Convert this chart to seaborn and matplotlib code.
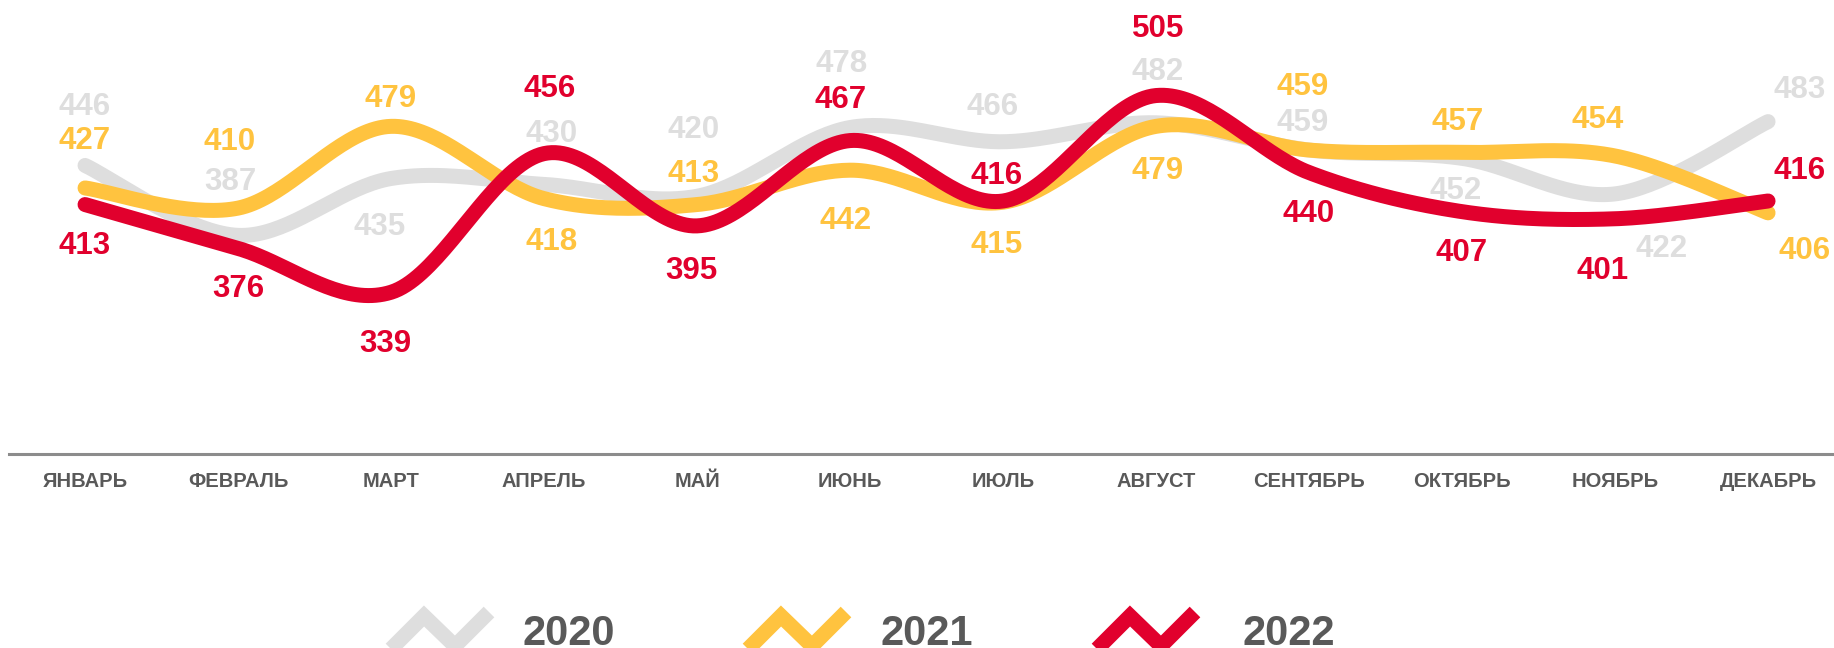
import numpy as np
import pandas as pd
import matplotlib
matplotlib.use("Agg")
import matplotlib.pyplot as plt
import seaborn as sns

# datos
meses = ["ЯНВАРЬ", "ФЕВРАЛЬ", "МАРТ", "АПРЕЛЬ", "МАЙ", "ИЮНЬ",
         "ИЮЛЬ", "АВГУСТ", "СЕНТЯБРЬ", "ОКТЯБРЬ", "НОЯБРЬ", "ДЕКАБРЬ"]
anios = ["2020", "2021", "2022"]
v2020 = [446, 387, 435, 430, 420, 478, 466, 482, 459, 452, 422, 483]
v2021 = [427, 410, 479, 418, 413, 442, 415, 479, 459, 457, 454, 406]
v2022 = [413, 376, 339, 456, 395, 467, 416, 505, 440, 407, 401, 416]
valores = {"2020": v2020, "2021": v2021, "2022": v2022}

colores = {"2020": "#DEDEDE", "2021": "#FFC33F", "2022": "#E1002D"}
gris_texto = "#595959"

# desplazamiento de etiquetas (px, y hacia abajo)
off2020 = [(0, -62), (-8, -57), (-11, 45), (8, -54), (-3, -70), (-8, -67),
           (-10, -38), (2, -54), (-6, -31), (-6, 29), (47, 52), (32, -35)]
off2021 = [(0, -50), (-8, -70), (0, -31), (8, 40), (-3, -34), (-4, 47),
           (-6, 39), (2, 41), (-6, -67), (-4, -34), (-17, -39), (37, 35)]
off2022 = [(0, 38), (0, 37), (-6, 48), (6, -68), (-6, 42), (-9, -44),
           (-6, -29), (2, -70), (0, 38), (0, 38), (-12, 49), (32, -34)]
desplaz = {"2020": off2020, "2021": off2021, "2022": off2022}


def suavizar(y, n=40):
    # suavizado tipo Excel (bezier con puntos de control a 1/6)
    y = np.asarray(y, dtype=float)
    x = np.arange(len(y), dtype=float)
    pts = np.column_stack([x, y])
    xs, ys = [], []
    for i in range(len(y) - 1):
        p0 = pts[max(i - 1, 0)]
        p1 = pts[i]
        p2 = pts[i + 1]
        p3 = pts[min(i + 2, len(y) - 1)]
        c1 = p1 + (p2 - p0) / 6
        c2 = p2 - (p3 - p1) / 6
        t = np.linspace(0, 1, n, endpoint=(i == len(y) - 2))[:, None]
        b = ((1 - t) ** 3) * p1 + 3 * ((1 - t) ** 2) * t * c1 + 3 * (1 - t) * t ** 2 * c2 + t ** 3 * p2
        xs.extend(b[:, 0])
        ys.extend(b[:, 1])
    return xs, ys


filas = []
for a in anios:
    xs, ys = suavizar(valores[a])
    filas.append(pd.DataFrame({"x": xs, "y": ys, "anio": a}))
df = pd.concat(filas, ignore_index=True)

sns.set_theme(style="white")
plt.rcParams["font.family"] = ["Liberation Sans", "DejaVu Sans"]

W, H = 1834, 648
fig = plt.figure(figsize=(W / 100, H / 100), dpi=100)
ax = fig.add_axes([9 / W, (H - 454) / H, 1825 / W, 454 / H])

sns.lineplot(data=df, x="x", y="y", hue="anio", hue_order=anios, palette=colores,
             linewidth=10.8, estimator=None, sort=False, legend=False, ax=ax,
             solid_capstyle="round")

ax.set_xlim(-0.497, 11.431)
ax.set_ylim(202.5, 202.5 + 454 / 1.185)

for a in anios:
    for i, v in enumerate(valores[a]):
        dx, dy = desplaz[a][i]
        ax.annotate(str(v), (i, v), xytext=(dx * 0.72, -(dy + 11.5) * 0.72),
                    textcoords="offset points", ha="center", va="baseline",
                    fontsize=22.5, fontweight="bold", color=colores[a],
                    annotation_clip=False)

ax.set_xticks(range(12))
ax.set_xticklabels(meses, fontsize=14.5, fontweight="bold", color=gris_texto)
ax.tick_params(axis="x", length=0, pad=13)
ax.set_yticks([])
ax.set_xlabel("")
ax.set_ylabel("")
for lado in ["top", "left", "right"]:
    ax.spines[lado].set_visible(False)
ax.spines["bottom"].set_color("#8C8C8C")
ax.spines["bottom"].set_linewidth(2.2)

# leyenda
lg = fig.add_axes([0, 0, 1, 1], zorder=-1)
lg.set_xlim(0, W)
lg.set_ylim(H, 0)
lg.axis("off")
zig_x = [382, 424, 455, 489]
zig_y = [658, 616, 646, 612]
inicio_icono = {"2020": 0, "2021": 357, "2022": 706}
inicio_texto = {"2020": 522, "2021": 880, "2022": 1242}
for a in anios:
    lg.plot([x + inicio_icono[a] for x in zig_x], zig_y, color=colores[a],
            linewidth=10.8, solid_joinstyle="miter", solid_capstyle="butt")
    lg.text(inicio_texto[a], 645, a, fontsize=30, fontweight="bold",
            color=gris_texto, ha="left", va="baseline")

fig.savefig("out.png", dpi=100)
